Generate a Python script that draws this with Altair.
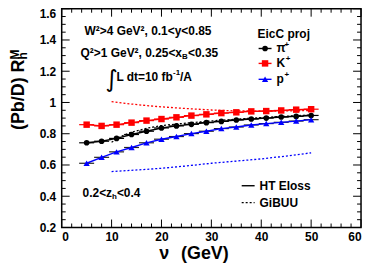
import altair as alt
import pandas as pd
import numpy as np

# ---------------- data ----------------
nu = [5, 8, 11, 14, 17, 20, 23, 26, 29, 32, 35, 38, 41, 44, 47, 50]
nu_halfwidth = 1.5
R_pi = [0.742, 0.752, 0.770, 0.795, 0.816, 0.837, 0.850, 0.860, 0.871, 0.879,
        0.888, 0.894, 0.900, 0.907, 0.911, 0.917]
R_K = [0.858, 0.850, 0.858, 0.871, 0.884, 0.894, 0.905, 0.916, 0.924, 0.932,
       0.937, 0.943, 0.945, 0.949, 0.954, 0.957]
R_p = [0.611, 0.649, 0.684, 0.712, 0.742, 0.765, 0.782, 0.801, 0.816, 0.833,
       0.843, 0.856, 0.865, 0.873, 0.881, 0.890]

nu_gibuu = [10, 12, 14, 17, 20, 25, 30, 35, 40, 45, 50]
G_pi = [0.745, 0.785, 0.810, 0.835, 0.852, 0.868, 0.882, 0.893, 0.903, 0.912, 0.920]
G_K = [1.005, 0.997, 0.990, 0.980, 0.972, 0.961, 0.952, 0.946, 0.945, 0.946, 0.948]
G_p = [0.558, 0.562, 0.566, 0.572, 0.579, 0.594, 0.611, 0.625, 0.639, 0.657, 0.678]

x_major = [0, 10, 20, 30, 40, 50, 60]
x_minor = [v for v in range(0, 61, 2) if v % 10 != 0]
y_major = [0.2, 0.4, 0.6, 0.8, 1.0, 1.2, 1.4, 1.6]
y_minor = [round(v, 2) for v in np.arange(0.2, 1.6001, 0.05) if abs(v * 5 - round(v * 5)) > 1e-6]

W, H = 301, 220
FONT = "Liberation Sans"

xscale = alt.Scale(domain=[0, 60], nice=False, zero=False)
yscale = alt.Scale(domain=[0.2, 1.6], nice=False, zero=False)

xaxis = alt.Axis(values=x_major, ticks=False, tickSize=0, domain=False, grid=False,
                 labelFont=FONT, labelFontWeight="bold", labelFontSize=12,
                 labelColor="black", labelPadding=4, format="d", title=None)
yaxis = alt.Axis(values=y_major, ticks=False, tickSize=0, domain=False, grid=False,
                 labelFont=FONT, labelFontWeight="bold", labelFontSize=12,
                 labelColor="black", labelPadding=6, title=None,
                 labelOffset={"condition": {"test": "datum.value >= 1.59", "value": 5}, "value": 0},
                 labelExpr="datum.value == 1 ? '1' : format(datum.value, '.1f')")

styles = {
    "pi": dict(color="black", shape="circle", size=32, err="black"),
    "K": dict(color="#ff0000", shape="square", size=42, err="#ff0000"),
    "p": dict(color="#0000ff", shape="triangle-up", size=40, err="#222222"),
}
series_vals = {"pi": R_pi, "K": R_K, "p": R_p}
gibuu_vals = {"pi": G_pi, "K": G_K, "p": G_p}


def X(field="nu"):
    return alt.X(f"{field}:Q", scale=xscale, axis=xaxis, title=None)


def Y(field="R"):
    return alt.Y(f"{field}:Q", scale=yscale, axis=yaxis, title=None)


layers = []

# GiBUU dotted
for k in ["pi", "K", "p"]:
    df = pd.DataFrame({"nu": nu_gibuu, "R": gibuu_vals[k]})
    layers.append(alt.Chart(df).mark_line(color=styles[k]["color"], strokeWidth=1.3,
                                          strokeDash=[2, 2]).encode(x=X(), y=Y()))

# horizontal error bars, theory lines, points
for k in ["pi", "K", "p"]:
    df = pd.DataFrame({"nu": nu, "R": series_vals[k]})
    df["lo"] = df["nu"] - nu_halfwidth
    df["hi"] = df["nu"] + nu_halfwidth
    layers.append(alt.Chart(df).mark_rule(color=styles[k]["err"], strokeWidth=1.2).encode(
        x=X("lo"), x2="hi:Q", y=Y()))
    layers.append(alt.Chart(df).mark_line(color=styles[k]["color"], strokeWidth=1.4).encode(
        x=X(), y=Y()))
    layers.append(alt.Chart(df).mark_point(color=styles[k]["color"], shape=styles[k]["shape"],
                                           filled=True, opacity=1, size=styles[k]["size"]).encode(
        x=X(), y=Y()))


# inward ticks on all four sides
def xticks(vals, length):
    df = pd.DataFrame({"v": vals})
    bot = alt.Chart(df).mark_rule(color="black", strokeWidth=1).encode(
        x=X("v"), y=alt.value(H), y2=alt.value(H - length))
    top = alt.Chart(df).mark_rule(color="black", strokeWidth=1).encode(
        x=X("v"), y=alt.value(0), y2=alt.value(length))
    return [bot, top]


def yticks(vals, length):
    df = pd.DataFrame({"v": vals})
    left = alt.Chart(df).mark_rule(color="black", strokeWidth=1).encode(
        y=Y("v"), x=alt.value(0), x2=alt.value(length))
    right = alt.Chart(df).mark_rule(color="black", strokeWidth=1).encode(
        y=Y("v"), x=alt.value(W), x2=alt.value(W - length))
    return [left, right]


layers += xticks(x_major, 8) + xticks(x_minor, 4) + yticks(y_major, 8) + yticks(y_minor, 4)


def txt(s, x, y, size=12, align="left", baseline="middle", angle=0, weight="bold",
        font=FONT, color="black"):
    return alt.Chart(pd.DataFrame({"t": [s]})).mark_text(
        align=align, baseline=baseline, fontSize=size, fontWeight=weight, font=font,
        angle=angle, color=color).encode(x=alt.value(x), y=alt.value(y), text="t:N")


# annotations
layers.append(txt("W²>4 GeV², 0.1<y<0.85", 23, 22))
layers.append(txt("Q²>1 GeV², 0.25<x", 19, 45))
layers.append(txt("B", 121, 49, size=8))
layers.append(txt("<0.35", 127, 45))
layers.append(txt("∫", 44, 72, size=24, weight="normal", font="DejaVu Sans"))
layers.append(txt("L dt=10 fb", 55, 69))
layers.append(txt("-1", 112, 65, size=8))
layers.append(txt("/A", 119, 69))
layers.append(txt("0.2<z", 21, 185))
layers.append(txt("h", 50.5, 189, size=8))
layers.append(txt("<0.4", 55.5, 185))

# series legend
layers.append(txt("EicC proj", 197, 25))
leg_rows = [("pi", "π", 40), ("K", "K", 55), ("p", "p", 71)]
for k, lab, yy in leg_rows:
    st = styles[k]
    ldf = pd.DataFrame({"a": [0]})
    layers.append(alt.Chart(ldf).mark_rule(color=st["color"], strokeWidth=1.4).encode(
        x=alt.value(198), x2=alt.value(211), y=alt.value(yy)))
    layers.append(alt.Chart(ldf).mark_point(color=st["color"], shape=st["shape"], filled=True,
                                            opacity=1, size=st["size"]).encode(
        x=alt.value(204.5), y=alt.value(yy)))
    layers.append(txt(lab, 216, yy))
    wlab = {"pi": 8.0, "K": 9.2, "p": 8.0}[k]
    layers.append(txt("+", 216 + wlab, yy - 4, size=8))

# model legend
ldf = pd.DataFrame({"a": [0]})
layers.append(alt.Chart(ldf).mark_rule(color="black", strokeWidth=1.4).encode(
    x=alt.value(181), x2=alt.value(194), y=alt.value(178)))
layers.append(txt("HT Eloss", 199, 178))
layers.append(alt.Chart(ldf).mark_rule(color="black", strokeWidth=1.3, strokeDash=[2, 2]).encode(
    x=alt.value(181), x2=alt.value(194), y=alt.value(195)))
layers.append(txt("GiBUU", 199, 195))

# axis titles
layers.append(txt("ν", 98, 247, size=18))
layers.append(txt("(GeV)", 120, 247, size=18))
layers.append(txt("(Pb/D) R", -37.5, 122, size=18, angle=270, baseline="alphabetic"))
layers.append(txt("h", -34.5, 51, size=12, angle=270, baseline="alphabetic"))
layers.append(txt("M", -43, 51, size=12, angle=270, baseline="alphabetic"))

chart = alt.layer(*layers).properties(
    width=W, height=H,
    autosize=alt.AutoSizeParams(type="none"),
    padding={"left": 54, "top": 0, "right": 5, "bottom": 38},
    background="white",
).configure_view(stroke="black", strokeWidth=1.5)

chart.save("out.html", embed_options={"renderer": "svg", "actions": False})
